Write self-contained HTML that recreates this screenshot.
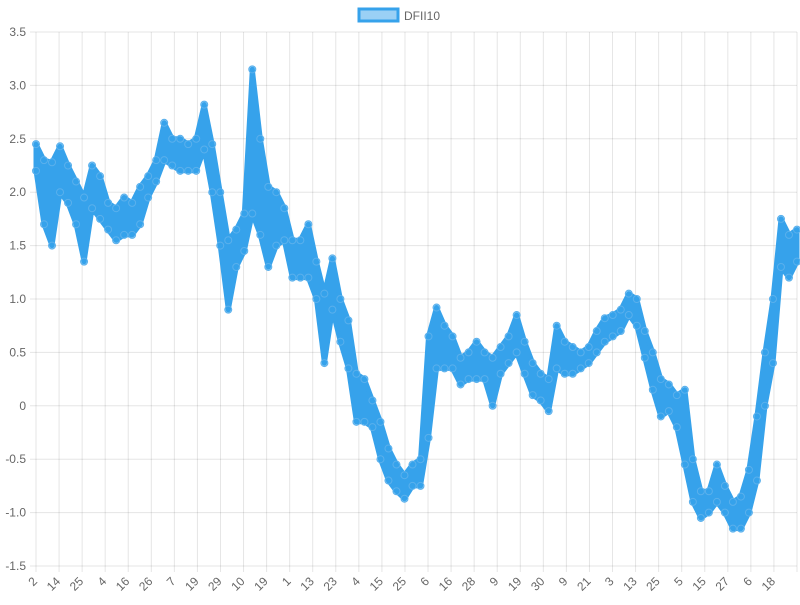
<!DOCTYPE html>
<html><head><meta charset="utf-8"><style>
html,body{margin:0;padding:0;background:#fff;}
svg text{font-family:"Liberation Sans",Helvetica,Arial,sans-serif;fill:#666;font-size:12px;}
</style></head><body>
<svg id="chart" width="800" height="600" viewBox="0 0 800 600" xmlns="http://www.w3.org/2000/svg">
<g id="grid"></g>
<g id="series"></g>
<g id="axes"></g>
<g>
<rect x="359" y="9" width="39" height="12" fill="rgba(54,162,235,0.5)" stroke="#36a2eb" stroke-width="3"/>
<text x="404" y="20">DFII10</text>
</g>
</svg>
<script>
const xTickLabels=["2","14","25","4","16","26","7","19","29","10","19","1","13","23","4","15","25","6","16","28","9","19","30","9","21","3","13","25","5","15","27","6","18"];
const yTicks=[3.5,3.0,2.5,2.0,1.5,1.0,0.5,0,-0.5,-1.0,-1.5];
const highValues=[2.45,2.3,2.28,2.43,2.25,2.1,1.95,2.25,2.15,1.9,1.85,1.95,1.9,2.05,2.15,2.3,2.65,2.5,2.5,2.45,2.5,2.82,2.45,2.0,1.55,1.65,1.8,3.15,2.5,2.05,2.0,1.85,1.55,1.55,1.7,1.35,1.05,1.38,1.0,0.8,0.3,0.25,0.05,-0.15,-0.4,-0.55,-0.65,-0.55,-0.5,0.65,0.92,0.75,0.65,0.45,0.5,0.6,0.5,0.45,0.55,0.65,0.85,0.6,0.4,0.3,0.25,0.75,0.6,0.55,0.5,0.55,0.7,0.82,0.85,0.9,1.05,1.0,0.7,0.5,0.25,0.2,0.1,0.15,-0.5,-0.8,-0.8,-0.55,-0.75,-0.9,-0.85,-0.6,-0.1,0.5,1.0,1.75,1.6,1.65];
const lowValues=[2.2,1.7,1.5,2.0,1.9,1.7,1.35,1.85,1.75,1.65,1.55,1.6,1.6,1.7,1.95,2.1,2.3,2.25,2.2,2.2,2.2,2.4,2.0,1.5,0.9,1.3,1.45,1.8,1.6,1.3,1.5,1.55,1.2,1.2,1.2,1.0,0.4,0.9,0.6,0.35,-0.15,-0.15,-0.2,-0.5,-0.7,-0.8,-0.87,-0.75,-0.75,-0.3,0.35,0.35,0.35,0.2,0.25,0.25,0.25,0.0,0.3,0.4,0.5,0.3,0.1,0.05,-0.05,0.35,0.3,0.3,0.35,0.4,0.5,0.6,0.65,0.7,0.85,0.75,0.45,0.15,-0.1,-0.05,-0.2,-0.55,-0.9,-1.05,-1.0,-0.9,-1.0,-1.15,-1.15,-1.0,-0.7,0.0,0.4,1.3,1.2,1.35];

const NS="http://www.w3.org/2000/svg";
const L=36,R=797,T=32,B=566,yMin=-1.5,yMax=3.5;
function yPos(v){return B-(v-yMin)/(yMax-yMin)*(B-T);}
function xPos(i){return L+i*(R-L)/(highValues.length-1);}
function tickX(i){return L+i*(R-L)/xTickLabels.length;}
function mk(tag,attrs,parent){const e=document.createElementNS(NS,tag);for(const k in attrs)e.setAttribute(k,attrs[k]);parent.appendChild(e);return e;}
const grid=document.getElementById('grid'),axes=document.getElementById('axes'),series=document.getElementById('series');
yTicks.forEach(v=>{
  const y=yPos(v);
  const g=mk('line',{x1:L-6,x2:R,y1:y,y2:y,stroke:'rgba(0,0,0,0.1)','stroke-width':1},grid);
  
  
  const t=mk('text',{x:L-10,y:y+4,'text-anchor':'end'},axes);
  t.textContent=(v===0?"0":v.toFixed(1));
  
  
});
for(let i=0;i<=xTickLabels.length;i++){
  const x=tickX(i);
  const g=mk('line',{x1:x,x2:x,y1:T,y2:B+6,stroke:'rgba(0,0,0,0.1)','stroke-width':1},grid);
  
  
}
xTickLabels.forEach((lab,i)=>{
  const x=tickX(i)+2;
  const t=mk('text',{x:x,y:582,'text-anchor':'end',transform:`rotate(-45 ${x} 582)`},axes);
  t.textContent=lab;
  
  
});
let d="";
highValues.forEach((v,i)=>{d+=(i?"L":"M")+xPos(i).toFixed(1)+","+yPos(v).toFixed(1);});
for(let i=lowValues.length-1;i>=0;i--)d+="L"+xPos(i).toFixed(1)+","+yPos(lowValues[i]).toFixed(1);
d+="Z";
const band=mk('path',{d:d,fill:'#36a2eb',stroke:'#36a2eb','stroke-width':5,'stroke-linejoin':'round'},series);


[highValues,lowValues].forEach(arr=>{
  arr.forEach((v,i)=>{
    const c=mk('circle',{cx:xPos(i),cy:yPos(v),r:3.5,fill:'rgba(54,162,235,0.6)',stroke:'#5ab0ec','stroke-width':1},series);
    
    
  });
});
</script>
</body></html>
